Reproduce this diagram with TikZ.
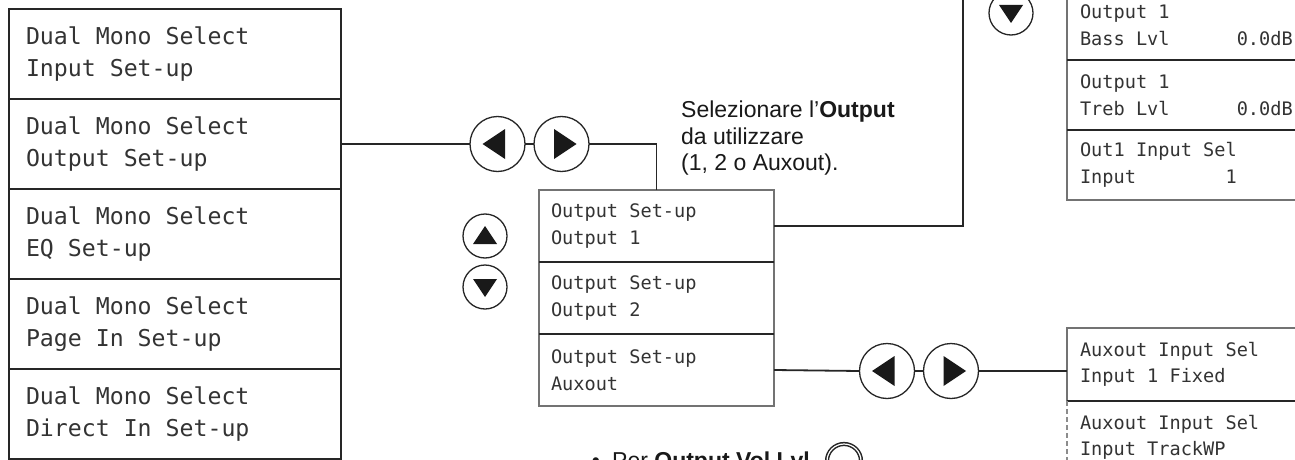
\documentclass[tikz,border=0pt]{standalone}
\usepackage{fontspec}
\setmainfont{Liberation Sans}
\newfontfamily\lcdfont{DejaVu Sans Mono}
\usetikzlibrary{positioning}
\newcommand{\lcdbigfont}{\lcdfont\fontsize{23.2}{32}\selectfont}
\newcommand{\lcdmidfont}{\lcdfont\fontsize{18.6}{27}\selectfont}
\newcommand{\lcdrightfont}{\lcdfont\fontsize{18.6}{26.5}\selectfont}

\tikzset{
  lcdbig/.style={draw=black!85, line width=1.6pt, outer sep=0pt,
                 inner xsep=17pt, inner ysep=0pt, minimum height=90pt,
                 text width=298pt, align=flush left, text=black!80,
                 font=\lcdbigfont},
  lcdmid/.style={draw=black!55, line width=1.1pt, outer sep=0pt,
                 inner xsep=12pt, inner ysep=0pt, minimum height=72pt,
                 text width=211pt, align=flush left, text=black!80,
                 font=\lcdmidfont},
  lcdright/.style={draw=black!55, line width=1.1pt, outer sep=0pt,
                 inner xsep=13pt, inner ysep=0pt, minimum height=70pt,
                 text width=220pt, align=flush left, text=black!80,
                 font=\lcdrightfont},
  divider/.style={draw=black!85, line width=1.5pt},
  dashedge/.style={draw=black!45, line width=1.1pt, dash pattern=on 5pt off 3pt},
  link/.style={draw=black!85, line width=1.8pt},
  note/.style={font=\fontsize{23}{26.5}\selectfont, align=left,
               inner sep=0pt, text=black!90},
  btn/.style={circle, draw=black!85, line width=1.3pt, minimum size=55pt,
              inner sep=0pt, outer sep=0pt},
  sbtn/.style={btn, minimum size=44pt},
  leftbtn/.style={btn, path picture={\fill[black!90]
      ([xshift=-15pt]path picture bounding box.center)
      -- ++(22.5pt,15pt) -- ++(0pt,-30pt) -- cycle;}},
  rightbtn/.style={btn, path picture={\fill[black!90]
      ([xshift=15pt]path picture bounding box.center)
      -- ++(-22.5pt,15pt) -- ++(0pt,-30pt) -- cycle;}},
  upbtn/.style={sbtn, path picture={\fill[black!90]
      ([yshift=10pt]path picture bounding box.center)
      -- ++(-12pt,-18pt) -- ++(24pt,0pt) -- cycle;}},
  downbtn/.style={sbtn, path picture={\fill[black!90]
      ([yshift=-10pt]path picture bounding box.center)
      -- ++(-12pt,18pt) -- ++(24pt,0pt) -- cycle;}},
  knob/.style={circle, draw=black!85, line width=1.5pt, double=white,
               double distance=1.2pt, minimum size=34pt, inner sep=0pt}
}

\begin{document}
\begin{tikzpicture}[x=1pt, y=-1pt]
  \useasboundingbox[fill=white] (0,0) rectangle (1295,460);
  \clip (0,0) rectangle (1295,460);

  %% Dual Mono menu
  \node[lcdbig, anchor=north west] (ds1) at (9,9) {Dual Mono Select\\Input Set-up};
  \node[lcdbig, below=0pt of ds1] (ds2) {Dual Mono Select\\Output Set-up};
  \node[lcdbig, below=0pt of ds2] (ds3) {Dual Mono Select\\EQ Set-up};
  \node[lcdbig, below=0pt of ds3] (ds4) {Dual Mono Select\\Page In Set-up};
  \node[lcdbig, below=0pt of ds4] (ds5) {Dual Mono Select\\Direct In Set-up};

  %% Output Set-up menu
  \node[lcdmid, anchor=north west] (op1) at (539,190) {Output Set-up\\Output 1};
  \node[lcdmid, below=0pt of op1] (op2) {Output Set-up\\Output 2};
  \node[lcdmid, below=0pt of op2] (op3) {Output Set-up\\Auxout};
  \draw[divider] (op1.south west) -- (op1.south east);
  \draw[divider] (op2.south west) -- (op2.south east);

  %% Output 1 levels
  \node[lcdright, anchor=north west] (lv1) at (1067,-10) {Output 1\\Bass~Lvl~~~~~~0.0dB};
  \node[lcdright, below=0pt of lv1] (lv2) {Output 1\\Treb~Lvl~~~~~~0.0dB};
  \node[lcdright, below=0pt of lv2] (lv3) {Out1 Input Sel\\Input~~~~~~~~1};
  \draw[divider] (lv1.south west) -- (lv1.south east);
  \draw[divider] (lv2.south west) -- (lv2.south east);

  %% Auxout input
  \node[lcdright, anchor=north west, minimum height=73pt] (ax1) at (1067,328)
    {Auxout Input Sel\\Input 1 Fixed};
  \node[lcdright, draw=none, below=0pt of ax1, minimum height=73pt] (ax2)
    {Auxout Input Sel\\Input TrackWP};
  \draw[divider] (ax1.south west) -- (ax1.south east);
  \draw[dashedge] (ax2.north west) -- (ax2.south west);

  %% Buttons
  \node[leftbtn] (lt1) at (497.5,144) {};
  \node[rightbtn, right=9pt of lt1] (rt1) {};
  \node[upbtn] (up1) at (485,236) {};
  \node[downbtn] (dn1) at (485,287) {};
  \node[downbtn] (dn2) at (1011,13) {};
  \node[leftbtn] (lt2) at (887,371) {};
  \node[rightbtn, right=9pt of lt2] (rt2) {};

  %% Notes
  \node[note, anchor=north west] (selnote) at (681,101)
    {Selezionare l'\textbf{Output}\\da utilizzare\\(1, 2 o Auxout).};
  \node[note, anchor=base] (dot) at (596,468.5) {\textbullet};
  \node[note, anchor=base west] (vollbl) at (612,468.5) {Per \textbf{Output Vol Lvl}};
  \node[knob] (volknob) at (844,461) {};

  %% Connectors
  \coordinate (lvtop) at (963,-15);
  \draw[link] (ds2.east) -- (lt1.west);
  \draw[link] (lt1.east) -- (rt1.west);
  \draw[link] (rt1.east) -| (op1.north);
  \draw[link] (op1.east) -| (lvtop);
  \draw[link] (op3.east) -- (lt2.west);
  \draw[link] (lt2.east) -- (rt2.west);
  \draw[link] (rt2.east) -- (rt2.east -| ax1.west);
\end{tikzpicture}
\end{document}
